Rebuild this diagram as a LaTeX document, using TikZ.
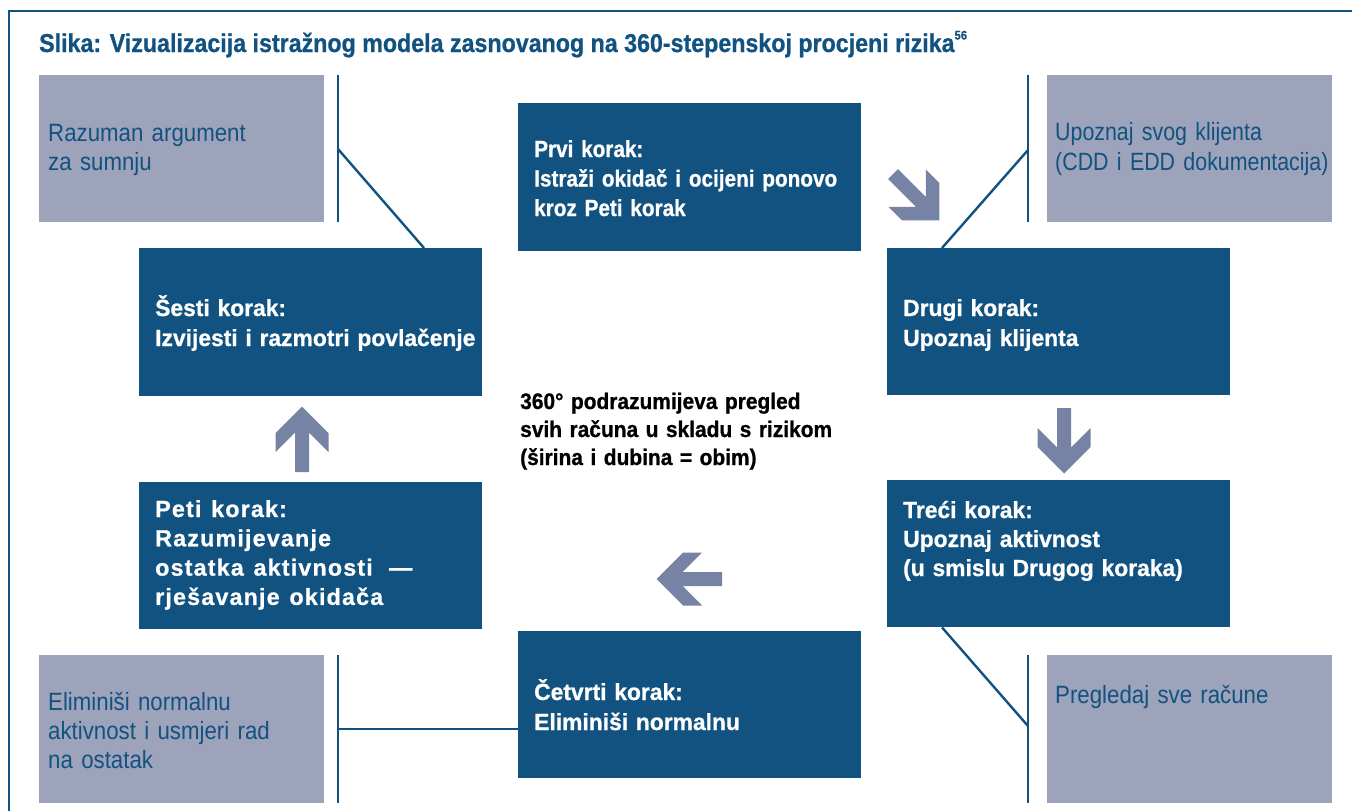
\documentclass[tikz,border=0pt]{standalone}
\usepackage{fontspec}
\setmainfont{Liberation Sans}
\newfontfamily\titlef{Liberation Sans}[UprightFont=* Bold, FakeStretch=0.90, FakeBold=0.8]
\newfontfamily\boxf{Liberation Sans}[UprightFont=* Bold, FakeStretch=0.98, FakeBold=0.8]
\newfontfamily\boxfa{Liberation Sans}[UprightFont=* Bold, FakeStretch=0.89, FakeBold=0.8]
\newfontfamily\boxfls{Liberation Sans}[UprightFont=* Bold, LetterSpace=5, FakeBold=0.8]
\newfontfamily\greyf{Liberation Sans}[FakeStretch=0.89]
\newfontfamily\greyfn{Liberation Sans}[FakeStretch=0.855]
\newfontfamily\centf{Liberation Sans}[UprightFont=* Bold, FakeStretch=0.93, FakeBold=0.8]
\usetikzlibrary{calc}
\definecolor{dblue}{HTML}{115280}
\definecolor{gbox}{HTML}{9EA3BC}
\definecolor{arrc}{HTML}{7783A5}
\tikzset{
  darkbox/.style={fill=dblue, draw=none, inner sep=0pt, minimum width=343pt, minimum height=147pt, anchor=north west},
  greybox/.style={fill=gbox, draw=none, inner sep=0pt, minimum width=285pt, minimum height=147pt, anchor=north west},
  darktext/.style={text=white, inner sep=0pt, anchor=base west, text width=335pt, align=left, font=\boxf\fontsize{23.3}{29.5}\selectfont},
  greytext/.style={text=dblue, inner sep=0pt, anchor=base west, text width=290pt, align=left, font=\greyf\fontsize{25}{29.3}\selectfont},
  conn/.style={draw=dblue, line width=2.4pt},
  frameline/.style={draw=dblue, line width=2.6pt},
  barrow/.pic={\fill[arrc] (0,7) -- (39.5,7) -- (20,26.5) -- (39,26.5) -- (65.5,0) -- (39,-26.5) -- (20,-26.5) -- (39.5,-7) -- (0,-7) -- cycle;}
}
\begin{document}
\begin{tikzpicture}[x=1pt,y=-1pt]
\useasboundingbox (0,0) rectangle (1352,811);
% frame
\draw[frameline] (9,811) -- (9,11) -- (1352,11);
% title
\node[anchor=base west, inner sep=0pt, text=dblue, font=\titlef\fontsize{25.8}{30}\selectfont] (title) at (39,52)
  {Slika: Vizualizacija istražnog modela zasnovanog na 360-stepenskoj procjeni rizika\raisebox{12.5pt}{\fontsize{12.5}{12.5}\selectfont 56}};
% grey boxes
\node[greybox] (g1) at (39,75) {};
\node[greybox] (g2) at (1047,75) {};
\node[greybox, minimum height=148pt] (g3) at (39,655) {};
\node[greybox, minimum height=148pt] (g4) at (1047,655) {};
\node[greytext] (g1t) at (48,141) {Razuman argument\\za sumnju};
\node[greytext, font=\greyfn\fontsize{25}{30}\selectfont] (g2t) at (1055,140) {Upoznaj svog klijenta\\(CDD i EDD dokumentacija)};
\node[greytext] (g3t) at (48,710) {Eliminiši normalnu\\aktivnost i usmjeri rad\\na ostatak};
\node[greytext] (g4t) at (1055,703) {Pregledaj sve račune};
% dark boxes
\node[darkbox, minimum height=148pt] (prvi) at (518,103) {};
\node[darkbox, minimum height=148pt] (sesti) at (139,248) {};
\node[darkbox] (drugi) at (887,248) {};
\node[darkbox] (treci) at (887,480) {};
\node[darkbox] (peti) at (139,482) {};
\node[darkbox] (cetvrti) at (518,631) {};
\node[darktext, font=\boxfa\fontsize{23.3}{29.5}\selectfont] (prvit) at (534,157) {Prvi korak:\\Istraži okidač i ocijeni ponovo\\kroz Peti korak};
\node[darktext, font=\boxf\fontsize{23.3}{30}\selectfont] (sestit) at (155,316) {Šesti korak:\\Izvijesti i razmotri povlačenje};
\node[darktext, font=\boxf\fontsize{23.3}{30}\selectfont] (drugit) at (903,316) {Drugi korak:\\Upoznaj klijenta};
\node[darktext, font=\boxf\fontsize{23.3}{29}\selectfont] (trecit) at (903,518) {Treći korak:\\Upoznaj aktivnost\\(u smislu Drugog koraka)};
\node[darktext, font=\boxfls\fontsize{23.3}{29.3}\selectfont] (petit) at (155,517) {\spaceskip=0.42em Peti korak:\\Razumijevanje\\ostatka aktivnosti \;—\\rješavanje okidača};
\node[darktext, font=\boxf\fontsize{23.3}{30}\selectfont] (cetvrtit) at (534,700) {Četvrti korak:\\Eliminiši normalnu};
% centre text
\node[anchor=base west, inner sep=0pt, text width=330pt, align=left, font=\centf\fontsize{22.5}{28}\selectfont] (centre) at (520,409)
  {360° podrazumijeva pregled\\svih računa u skladu s rizikom\\(širina i dubina = obim)};
% connectors
\coordinate (b1t) at (338,75);  \coordinate (b1b) at (338,222); \coordinate (b1m) at (338,149);
\coordinate (b2t) at (1028,75); \coordinate (b2b) at (1028,222); \coordinate (b2m) at (1028,150);
\coordinate (b3t) at (1028,655); \coordinate (b3b) at (1028,803); \coordinate (b3m) at (1028,726);
\coordinate (b4t) at (338,655); \coordinate (b4b) at (338,803); \coordinate (b4m) at (338,729);
\draw[conn] (b1t) -- (b1b);
\draw[conn] (b1m) -- ($(sesti.north west)+(285,0)$);
\draw[conn] (b2t) -- (b2b);
\draw[conn] (b2m) -- ($(drugi.north west)+(55,0)$);
\draw[conn] (b3t) -- (b3b);
\draw[conn] ($(treci.south west)+(55,0)$) -- (b3m);
\draw[conn] (b4t) -- (b4b);
\draw[conn] (b4m) -- (cetvrti.west |- b4m);
% block arrows
\pic[rotate=-45] (adiag) at (893,174) {barrow};
\pic[rotate=-90] (adown) at (1064,408) {barrow};
\pic[rotate=180] (aleft) at (722,579) {barrow};
\pic[rotate=90] (aup) at (302,472) {barrow};
\end{tikzpicture}
\end{document}
